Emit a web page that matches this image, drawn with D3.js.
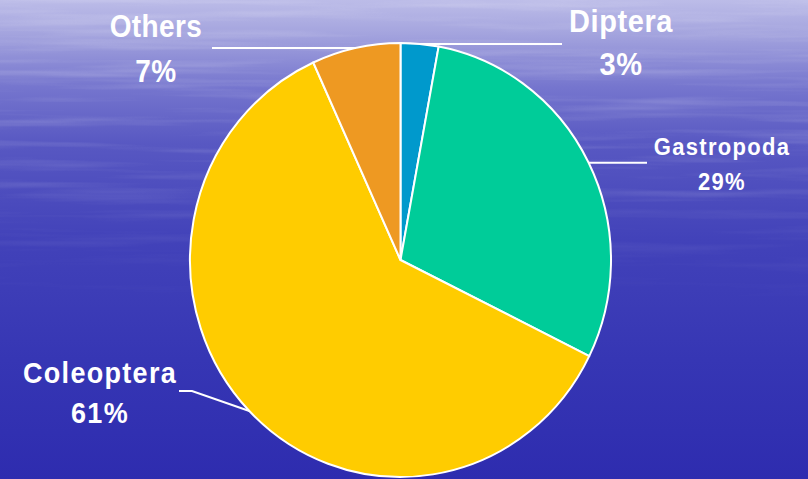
<!DOCTYPE html>
<html>
<head>
<meta charset="utf-8">
<script src="https://cdn.jsdelivr.net/npm/d3@7"></script>
<style>
html,body{margin:0;padding:0;background:#3030b0;}
svg{display:block;}
</style>
</head>
<body>
<svg id="chart" width="808" height="479"></svg>
<script>
// ---- data ----
const categories = ["Diptera", "Gastropoda", "Coleoptera", "Others"];
const values = [2.9, 29.4, 60.9, 6.8];
const colors = ["#0099cc", "#00cc99", "#ffcc00", "#ee9922"];

// ---- layout (label anchor points, not data) ----
const labelLayout = {
  Diptera:    {x: 621, y1: 32,  y2: 75,  size: 29, ls: 0.6, lineTo: 562, elbow: null},
  Gastropoda: {x: 722, y1: 155, y2: 190, size: 22, ls: 1.3, lineTo: 647, elbow: null},
  Coleoptera: {x: 100, y1: 383, y2: 423, size: 27, ls: 1.3, lineTo: 179, elbow: 192},
  Others:     {x: 156, y1: 37,  y2: 82,  size: 28, ls: 0.4, lineTo: 212, elbow: null}
};

const W = 808, H = 479;
const cx = 400.5, cy = 260, rx = 210.5, ry = 217;
const svg = d3.select("#chart");
const defs = svg.append("defs");

// background gradient
const bg = defs.append("linearGradient").attr("id", "bg").attr("x1", 0).attr("y1", 0).attr("x2", 0).attr("y2", 1);
[[0, "#bcbce8"], [0.07, "#a4a4de"], [0.18, "#7676ce"], [0.3, "#5858c2"], [0.5, "#4242b9"], [0.75, "#3636b4"], [1, "#2e2caf"]]
  .forEach(([o, c]) => bg.append("stop").attr("offset", o).attr("stop-color", c));

// streaky clouds via stretched turbulence
const f = defs.append("filter").attr("id", "streaks").attr("x", 0).attr("y", 0).attr("width", 1).attr("height", 1);
f.append("feTurbulence").attr("type", "fractalNoise").attr("baseFrequency", "0.004 0.1").attr("numOctaves", 3).attr("seed", 7).attr("result", "n");
f.append("feColorMatrix").attr("type", "matrix")
  .attr("values", "0 0 0 0 1  0 0 0 0 1  0 0 0 0 1  1.6 0 0 0 -0.75").attr("in", "n").attr("result", "w");
const fadeG = defs.append("linearGradient").attr("id", "fade").attr("x1", 0).attr("y1", 0).attr("x2", 0).attr("y2", 1);
[[0, 1], [0.3, 0.8], [0.5, 0.3], [0.65, 0]].forEach(([o, a]) =>
  fadeG.append("stop").attr("offset", o).attr("stop-color", "#fff").attr("stop-opacity", a));
const mask = defs.append("mask").attr("id", "fadeMask");
mask.append("rect").attr("width", W).attr("height", H).attr("fill", "url(#fade)");

svg.append("rect").attr("width", W).attr("height", H).attr("fill", "url(#bg)");
svg.append("rect").attr("width", W).attr("height", H).attr("filter", "url(#streaks)")
  .attr("mask", "url(#fadeMask)").attr("opacity", 0.3);

// ---- pie ----
const pie = d3.pie().sort(null).value(d => d.v);
const data = pie(categories.map((c, i) => ({name: c, v: values[i], color: colors[i]})));
const arc = d3.arc().innerRadius(0).outerRadius(rx);

const g = svg.append("g").attr("transform", `translate(${cx},${cy}) scale(1,${ry / rx})`);
g.selectAll("path").data(data).enter().append("path")
  .attr("d", arc)
  .attr("fill", d => d.data.color)
  .attr("stroke", "#ffffff")
  .attr("stroke-width", 2)
  .attr("vector-effect", "non-scaling-stroke")
  .attr("stroke-linejoin", "round");

// ---- leader lines & labels ----
const fmt = v => Math.round(v) + "%";
data.forEach(d => {
  const L = labelLayout[d.data.name];
  const a = (d.startAngle + d.endAngle) / 2;
  const ex = cx + rx * Math.sin(a), ey = cy - ry * Math.cos(a);
  let pts;
  if (L.elbow !== null) {
    const ly = ey - 20;
    pts = [[ex, ey], [L.elbow, ly], [L.lineTo, ly]];
  } else {
    pts = [[ex, ey], [L.lineTo, ey]];
  }
  svg.append("path")
    .attr("d", d3.line()(pts))
    .attr("fill", "none").attr("stroke", "#ffffff").attr("stroke-width", 2);

  [[L.y1, d.data.name], [L.y2, fmt(d.data.v)]].forEach(([y, txt]) => {
    svg.append("text")
      .attr("transform", `translate(${L.x},${y}) scale(1,1.1)`)
      .attr("font-family", "'Liberation Sans', Arial, sans-serif")
      .attr("font-weight", "bold").attr("fill", "#ffffff").attr("text-anchor", "middle")
      .attr("font-size", L.size).attr("letter-spacing", L.ls)
      .text(txt);
  });
});
</script>
</body>
</html>
